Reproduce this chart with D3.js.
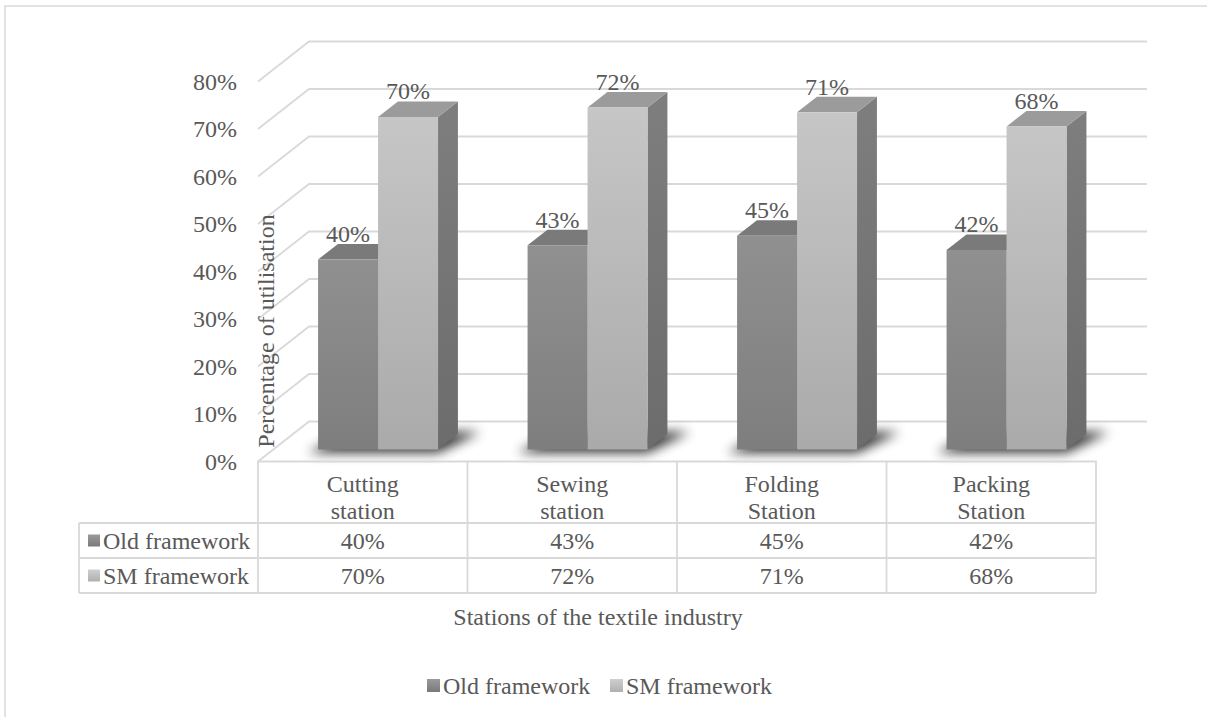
<!DOCTYPE html>
<html>
<head>
<meta charset="utf-8">
<script src="https://cdn.jsdelivr.net/npm/d3@7/dist/d3.min.js"></script>
<style>
  html, body { margin: 0; padding: 0; background: #fff; }
</style>
</head>
<body>
<svg id="chart" width="1207" height="717" font-family="'Liberation Serif', 'Times New Roman', serif"></svg>
<script>
// ---- data ----
const categories = ["Cutting station", "Sewing station", "Folding Station", "Packing Station"];
const categoryLines = [["Cutting", "station"], ["Sewing", "station"], ["Folding", "Station"], ["Packing", "Station"]];
const seriesNames = ["Old framework", "SM framework"];
const oldFramework = [40, 43, 45, 42];
const smFramework = [70, 72, 71, 68];
const yTicks = [0, 10, 20, 30, 40, 50, 60, 70, 80];
const xAxisTitle = "Stations of the textile industry";
const yAxisTitle = "Percentage of utilisation";

const seriesValues = [oldFramework, smFramework];

// ---- layout ----
const svg = d3.select("#chart");
const FONT = 24;
const TEXT = "#595959";

// front plane of the 3D box
const front = { left: 258, right: 1096, bottom: 461.5, top: 81.5 };
// depth vector from front plane to back wall
const depth = { dx: 51, dy: -40 };
// bars sit between these depth fractions
const barDepth0 = 0.3, barDepth1 = 0.69;

const y = d3.scaleLinear().domain([0, 80]).range([front.bottom, front.top]);
const x0 = d3.scaleBand().domain(categories).range([front.left, front.right]);
const x1 = d3.scaleBand().domain(seriesNames)
  .range([x0.bandwidth() * 0.2137, x0.bandwidth() * 0.7863]);

// project (front x, value, depth fraction) -> screen point
function P(x, v, d) {
  return [x + depth.dx * d, y(v) + depth.dy * d];
}

function label(sel) {
  return sel.attr("font-size", FONT).attr("fill", TEXT)
    .attr("font-family", "'Liberation Serif', 'Times New Roman', serif");
}

// ---- defs: gradients and shadow blur ----
const defs = svg.append("defs");
function vGrad(id, c0, c1) {
  const g = defs.append("linearGradient").attr("id", id)
    .attr("x1", 0).attr("y1", 0).attr("x2", 0).attr("y2", 1);
  g.append("stop").attr("offset", "0%").attr("stop-color", c0);
  g.append("stop").attr("offset", "100%").attr("stop-color", c1);
}
vGrad("oldFront", "#909090", "#7e7e7e");
vGrad("smFront", "#c6c6c6", "#aaaaaa");
vGrad("oldSide", "#747474", "#666666");
vGrad("smSide", "#7e7e7e", "#6c6c6c");
vGrad("oldKey", "#9a9a9a", "#7a7a7a");
vGrad("smKey", "#cfcfcf", "#b0b0b0");

const faceColors = [
  { front: "url(#oldFront)", top: "#7a7a7a", side: "url(#oldSide)", key: "url(#oldKey)" },
  { front: "url(#smFront)", top: "#9b9b9b", side: "url(#smSide)", key: "url(#smKey)" }
];

defs.append("filter").attr("id", "shadowBlur")
  .attr("x", "-50%").attr("y", "-100%").attr("width", "200%").attr("height", "300%")
  .append("feGaussianBlur").attr("stdDeviation", 6);

// ---- outer chart border ----
svg.append("rect").attr("x", 5).attr("y", 6).attr("width", 1220).attr("height", 730)
  .attr("fill", "none").attr("stroke", "#d9d9d9").attr("stroke-width", 1.5);

// ---- walls: gridlines on back wall and left wall ----
const grid = svg.append("g").attr("stroke", "#d9d9d9").attr("stroke-width", 1.8).attr("fill", "none");
yTicks.forEach(v => {
  const a = P(front.left, v, 0), b = P(front.left, v, 1), c = P(front.right, v, 1);
  grid.append("path").attr("d", d3.line()([a, b, c]));
});

// y tick labels
svg.append("g").selectAll("text").data(yTicks).join("text")
  .attr("x", front.left - 21)
  .attr("y", d => y(d))
  .attr("dy", "0.35em")
  .attr("text-anchor", "end")
  .call(label)
  .text(d => d + "%");

// ---- bars ----
const barsG = svg.append("g");
categories.forEach((cat, ci) => {
  const gx0 = x0(cat) + x1(seriesNames[0]);
  const gx1 = x0(cat) + x1(seriesNames[1]) + x1.bandwidth();
  // soft shadow on the floor behind the group
  const sh = [
    P(gx0 - 6, 0, barDepth0 - 0.08), P(gx1 + 4, 0, barDepth0 - 0.08),
    P(gx1 + 20, 0, barDepth1 + 0.05), P(gx0 + 8, 0, barDepth1 + 0.05)
  ];
  barsG.append("path").attr("d", d3.line()(sh) + "Z")
    .attr("fill", "#000").attr("opacity", 0.8).attr("filter", "url(#shadowBlur)");

  seriesNames.forEach((s, si) => {
    const v = seriesValues[si][ci];
    const xl = x0(cat) + x1(s), xr = xl + x1.bandwidth();
    const col = faceColors[si];
    const fl = P(xl, 0, barDepth0);
    const tl = P(xl, v, barDepth0), tr = P(xr, v, barDepth0), fr = P(xr, 0, barDepth0);
    const btl = P(xl, v, barDepth1), btr = P(xr, v, barDepth1), bbr = P(xr, 0, barDepth1);
    // side face
    barsG.append("path").attr("d", d3.line()([fr, tr, btr, bbr]) + "Z").attr("fill", col.side);
    // top face
    barsG.append("path").attr("d", d3.line()([tl, tr, btr, btl]) + "Z").attr("fill", col.top);
    // front face
    barsG.append("rect").attr("x", tl[0]).attr("y", tl[1])
      .attr("width", tr[0] - tl[0]).attr("height", fl[1] - tl[1]).attr("fill", col.front);
  });
});

// data labels above bar tops
categories.forEach((cat, ci) => {
  seriesNames.forEach((s, si) => {
    const v = seriesValues[si][ci];
    const xc = x0(cat) + x1(s) + x1.bandwidth() / 2;
    svg.append("text")
      .attr("x", P(xc, v, barDepth0)[0])
      .attr("y", P(xc, v, barDepth1)[1] - 2)
      .attr("text-anchor", "middle")
      .call(label)
      .text(v + "%");
  });
});

// ---- y axis title ----
svg.append("text")
  .attr("transform", `translate(274, 331) rotate(-90)`)
  .attr("text-anchor", "middle")
  .call(label)
  .text(yAxisTitle);

// ---- data table ----
const table = svg.append("g").attr("stroke", "#d9d9d9").attr("stroke-width", 1.8).attr("fill", "none");
const tTop = front.bottom, tHead = 523, tRow1 = 558, tRow2 = 593, tLeft = 79;
table.append("path").attr("d", `M${front.left},${tHead} V${tTop} H${front.right} V${tRow2}`);
table.append("path").attr("d", `M${tLeft},${tHead} H${front.right} M${tLeft},${tRow1} H${front.right} M${tLeft},${tRow2} H${front.right} M${tLeft},${tHead} V${tRow2} M${front.left},${tHead} V${tRow2}`);
categories.forEach((cat, ci) => {
  if (ci > 0) table.append("line").attr("x1", x0(cat)).attr("x2", x0(cat)).attr("y1", tTop).attr("y2", tRow2);
});

const rowY = [540.5, 575.5];
categories.forEach((cat, ci) => {
  const cx = x0(cat) + x0.bandwidth() / 2;
  categoryLines[ci].forEach((ln, li) => {
    svg.append("text").attr("x", cx).attr("y", 484 + li * 27).attr("dy", "0.35em")
      .attr("text-anchor", "middle").call(label).text(ln);
  });
  seriesNames.forEach((s, si) => {
    svg.append("text").attr("x", cx).attr("y", rowY[si]).attr("dy", "0.35em")
      .attr("text-anchor", "middle").call(label).text(seriesValues[si][ci] + "%");
  });
});

// series keys in the table
seriesNames.forEach((s, si) => {
  const cy = rowY[si];
  svg.append("rect").attr("x", 88).attr("y", cy - 6).attr("width", 12).attr("height", 12)
    .attr("fill", faceColors[si].key);
  svg.append("text").attr("x", 103).attr("y", cy).attr("dy", "0.35em")
    .call(label).text(s);
});

// ---- x axis title ----
svg.append("text").attr("x", 598).attr("y", 617).attr("dy", "0.35em")
  .attr("text-anchor", "middle").call(label).text(xAxisTitle);

// ---- legend ----
const legendX = [427, 610];
seriesNames.forEach((s, si) => {
  svg.append("rect").attr("x", legendX[si]).attr("y", 679).attr("width", 13).attr("height", 13)
    .attr("fill", faceColors[si].key);
  svg.append("text").attr("x", legendX[si] + 16).attr("y", 685.5).attr("dy", "0.35em")
    .call(label).text(s);
});
</script>
</body>
</html>
